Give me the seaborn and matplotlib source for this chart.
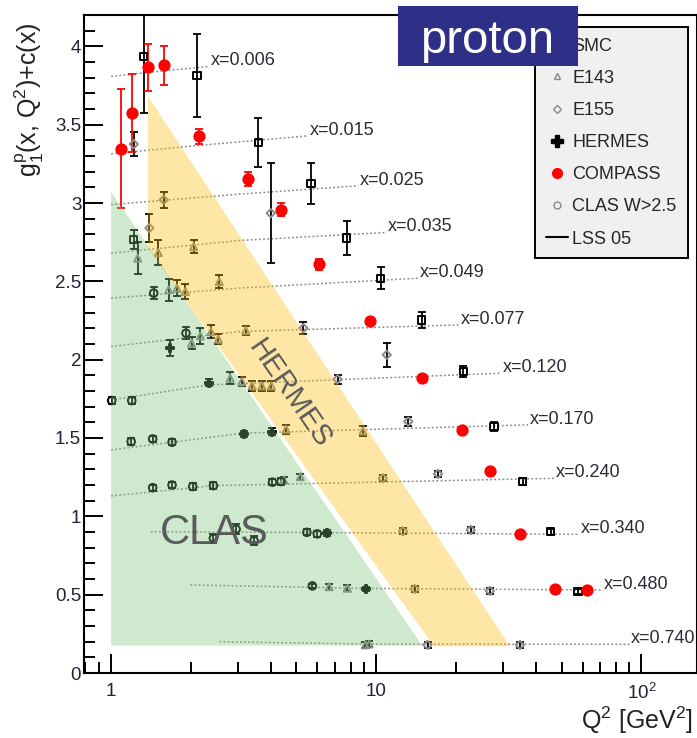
import numpy as np
import pandas as pd
import matplotlib
matplotlib.use('Agg')
import matplotlib.pyplot as plt
from matplotlib.lines import Line2D
from matplotlib.patches import Rectangle
from matplotlib.ticker import FixedLocator, FixedFormatter, MultipleLocator, LogLocator, NullFormatter
import seaborn as sns

# LSS 05 curves, one per x bin
x_bins = ['x=0.006', 'x=0.015', 'x=0.025', 'x=0.035', 'x=0.049', 'x=0.077',
          'x=0.120', 'x=0.170', 'x=0.240', 'x=0.340', 'x=0.480', 'x=0.740']
lss_q2 = [[1.0, 1.5, 2.35], [1.0, 2.06, 5.55], [1.0, 3.07, 8.56], [1.0, 3.07, 10.95],
          [1.0, 3.07, 14.4], [1.0, 3.07, 20.7], [1.0, 2.33, 29.7], [1.0, 3.16, 37.4],
          [1.0, 2.43, 47.2], [1.41, 5.47, 58.6], [1.99, 9.18, 71.7], [2.56, 9.26, 90.4]]
lss_g = [[3.808, 3.84, 3.872], [3.314, 3.365, 3.429], [2.99, 3.057, 3.11], [2.68, 2.761, 2.812],
         [2.393, 2.457, 2.52], [2.084, 2.18, 2.222], [1.743, 1.839, 1.914], [1.424, 1.531, 1.584],
         [1.13, 1.196, 1.243], [0.902, 0.897, 0.885], [0.562, 0.54, 0.53], [0.2, 0.185, 0.183]]

# SMC
smc_q2 = [1.327, 2.108, 3.59, 5.68, 7.74, 10.4, 14.84, 21.3, 27.8, 35.6, 45.5, 57.7, 1.217]
smc_g = [3.936, 3.814, 3.386, 3.123, 2.776, 2.52, 2.254, 1.924, 1.573, 1.222, 0.902, 0.519, 2.765]
smc_err = [0.36, 0.265, 0.155, 0.13, 0.107, 0.07, 0.05, 0.035, 0.03, 0.02, 0.02, 0.015, 0.06]

# E143
e143_q2 = [1.259, 1.507, 2.047, 1.648, 1.772, 1.905, 2.557, 2.01, 2.17, 2.38, 2.536, 3.22,
           2.81, 3.11, 3.40, 3.70, 4.02, 4.57, 8.9, 4.47, 5.17, 6.64, 7.78, 9.1, 9.4]
e143_g = [2.648, 2.684, 2.722, 2.446, 2.457, 2.435, 2.499, 2.105, 2.152, 2.179, 2.131, 2.186,
          1.882, 1.86, 1.833, 1.833, 1.833, 1.556, 1.545, 1.232, 1.253, 0.551, 0.541, 0.18, 0.185]
e143_err = [0.1, 0.077, 0.04, 0.07, 0.05, 0.05, 0.04, 0.04, 0.05, 0.04, 0.03, 0.03,
            0.04, 0.03, 0.03, 0.03, 0.03, 0.03, 0.03, 0.02, 0.02, 0.02, 0.02, 0.02, 0.02]

# E155
e155_q2 = [1.217, 1.394, 1.578, 4.0, 5.31, 7.14, 10.95, 13.2, 10.58, 17.1, 12.6, 22.7, 13.96, 26.8, 15.6, 34.8]
e155_g = [3.376, 2.84, 3.02, 2.935, 2.201, 1.875, 2.031, 1.605, 1.243, 1.271, 0.905, 0.913, 0.536, 0.524, 0.179, 0.179]
e155_err = [0.075, 0.09, 0.05, 0.32, 0.04, 0.03, 0.078, 0.03, 0.02, 0.02, 0.02, 0.02, 0.02, 0.02, 0.02, 0.02]

# HERMES
hermes_q2 = [1.672, 2.33, 3.16, 4.03, 6.52, 9.18]
hermes_g = [2.073, 1.854, 1.526, 1.541, 0.892, 0.536]
hermes_err = [0.05, 0.02, 0.02, 0.02, 0.02, 0.015]

# COMPASS
compass_q2 = [1.093, 1.196, 1.378, 1.578, 2.15, 3.27, 4.39, 6.09, 9.48, 14.92, 21.0, 26.8, 34.8, 47.4, 62.1]
compass_g = [3.347, 3.574, 3.865, 3.878, 3.425, 3.154, 2.957, 2.61, 2.248, 1.882, 1.552, 1.292, 0.888, 0.534, 0.53]
compass_err = [0.38, 0.25, 0.15, 0.125, 0.05, 0.045, 0.04, 0.035, 0.02, 0.015, 0.015, 0.015, 0.015, 0.015, 0.015]

# CLAS W>2.5
clas_q2 = [1.447, 1.915, 1.005, 1.196, 1.19, 1.434, 1.697, 1.434, 1.697, 2.03, 2.43, 4.06, 4.37,
           2.43, 2.96, 3.46, 5.47, 5.99, 5.74]
clas_g = [2.425, 2.169, 1.739, 1.739, 1.477, 1.494, 1.473, 1.183, 1.2, 1.19, 1.196, 1.218, 1.222,
          0.86, 0.918, 0.845, 0.898, 0.888, 0.556]
clas_err = [0.04, 0.04, 0.02, 0.02, 0.02, 0.02, 0.02, 0.02, 0.02, 0.02, 0.02, 0.02, 0.02,
            0.03, 0.03, 0.03, 0.02, 0.02, 0.015]

# kinematic coverage bands
clas_band_q2 = [1.0, 1.0, 14.9]
clas_band_g = [0.175, 3.07, 0.175]
hermes_band_q2 = [1.378, 1.378, 16.5, 31.9]
hermes_band_g = [3.68, 2.71, 0.17, 0.17]

sns.set_theme(style='ticks')
plt.rcParams['font.family'] = ['Liberation Sans', 'DejaVu Sans']
plt.rcParams['mathtext.fontset'] = 'custom'
plt.rcParams['mathtext.rm'] = 'Liberation Sans'
plt.rcParams['mathtext.it'] = 'Liberation Sans'

W, H = 697, 738
fig = plt.figure(figsize=(W / 100, H / 100), dpi=100)
ax = fig.add_axes([84 / W, 65 / H, 613 / W, 658 / H])

# LSS 05 curves
lss_df = pd.DataFrame({
    'q2': [q for qs in lss_q2 for q in qs],
    'g': [g for gs in lss_g for g in gs],
    'bin': [b for b, qs in zip(x_bins, lss_q2) for _ in qs],
})
sns.lineplot(data=lss_df, x='q2', y='g', units='bin', estimator=None, color='#8a8a8a',
             linestyle=(0, (1.2, 1.5)), linewidth=1.1, ax=ax, zorder=1, legend=False)
for lab, qs, gs in zip(x_bins, lss_q2, lss_g):
    ax.text(qs[-1] * 1.01, gs[-1] + 0.035, lab, fontsize=13, color='#2b2b38',
            ha='left', va='center', zorder=6)

experiments = [
    (smc_q2, smc_g, smc_err, 's', 'none', 'black', 28, 'black'),
    (e143_q2, e143_g, e143_err, '^', 'none', '#8a8a8a', 26, 'black'),
    (e155_q2, e155_g, e155_err, 'D', 'none', '#8a8a8a', 18, 'black'),
    (hermes_q2, hermes_g, hermes_err, 'P', 'black', 'black', 30, 'black'),
    (compass_q2, compass_g, compass_err, 'o', 'red', 'red', 55, 'red'),
    (clas_q2, clas_g, clas_err, 'o', 'none', 'black', 30, 'black'),
]
for q2, g, err, mk, fc, ec, s, errc in experiments:
    ax.errorbar(q2, g, yerr=err, fmt='none', ecolor=errc, elinewidth=1.3, capsize=3,
                capthick=1.3, zorder=2)
    sns.scatterplot(x=q2, y=g, marker=mk, s=s, facecolor=fc, edgecolor=ec,
                    linewidth=1.4, ax=ax, zorder=3)

# coverage bands drawn over the data
ax.fill(hermes_band_q2, hermes_band_g, color=(252 / 255, 184 / 255, 0), alpha=0.35,
        lw=0, zorder=4)
ax.fill(clas_band_q2, clas_band_g, color=(118 / 255, 192 / 255, 118 / 255), alpha=0.35,
        lw=0, zorder=4)
ax.text(1.53, 0.894, 'CLAS', fontsize=30, color='#5a5a5a', ha='left', va='center', zorder=6)
ax.text(4.7, 1.78, 'HERMES', fontsize=21, color='#5a5a5a', ha='center', va='center',
        rotation=-55.5, rotation_mode='anchor', zorder=6)

ax.set_xscale('log')
ax.set_xlim(0.79, 162)
ax.set_ylim(0, 4.2)
ax.xaxis.set_major_locator(FixedLocator([1, 10, 100]))
ax.xaxis.set_major_formatter(FixedFormatter(['1', '10', '$10^2$']))
ax.xaxis.set_minor_locator(LogLocator(base=10, subs=np.arange(2, 10), numticks=20))
ax.xaxis.set_minor_formatter(NullFormatter())
ax.yaxis.set_major_locator(MultipleLocator(0.5))
ax.yaxis.set_minor_locator(MultipleLocator(0.1))
ax.yaxis.set_major_formatter(plt.FuncFormatter(lambda v, p: f'{v:g}'))
ax.tick_params(which='both', direction='in', top=False, right=False, width=1.4,
               color='black', labelcolor='#22223a', labelsize=13.5)
ax.tick_params(which='major', length=13.5)
ax.tick_params(which='minor', length=7.7)
ax.tick_params(axis='y', pad=2)
ax.tick_params(axis='x', pad=7)
for sp in ax.spines.values():
    sp.set_linewidth(1.5)
    sp.set_color('black')

ax.set_xlabel('Q$^{2}$ [GeV$^{2}$]', fontsize=18, color='#222', ha='right', va='center')
ax.xaxis.set_label_coords(609 / 613, -47 / 658)
ax.set_ylabel('g$_{1}^{p}$(x, Q$^{2}$)+c(x)', fontsize=18, color='#222', ha='center', va='bottom')
ax.yaxis.set_label_coords(-38 / 613, 573 / 658)

# legend
handles = [
    Line2D([], [], ls='none', marker='s', mfc='none', mec='black', ms=6, mew=1.3),
    Line2D([], [], ls='none', marker='^', mfc='none', mec='#8a8a8a', ms=5, mew=1),
    Line2D([], [], ls='none', marker='D', mfc='none', mec='#8a8a8a', ms=4, mew=1),
    Line2D([], [], ls='none', marker='P', color='black', ms=8),
    Line2D([], [], ls='none', marker='o', color='red', ms=7),
    Line2D([], [], ls='none', marker='o', mfc='none', mec='#8a8a8a', ms=5, mew=1),
    Line2D([], [], color='black', lw=1.5),
]
labels = ['SMC', 'E143', 'E155', 'HERMES', 'COMPASS', 'CLAS W>2.5', 'LSS 05']
leg = ax.legend(handles, labels, loc='upper left',
                bbox_to_anchor=(535 / W, (H - 250.7) / H, 153 / W, 224 / H),
                bbox_transform=fig.transFigure, mode='expand', fontsize=13,
                frameon=True, fancybox=False, edgecolor='black', facecolor='#f0f0f0',
                framealpha=1, borderaxespad=0, borderpad=0.6, labelspacing=0.84,
                handlelength=1.2, handletextpad=0.25)
leg.get_frame().set_linewidth(1.4)
leg.set_zorder(10)

# proton tag
fig.add_artist(Rectangle((398 / W, 1 - 66 / H), 180 / W, 60 / H, transform=fig.transFigure,
                         facecolor='#2e3087', edgecolor='none', zorder=20))
fig.text(487.5 / W, 1 - 53.3 / H, 'proton', fontsize=34, color='white', ha='center',
         va='baseline', zorder=21)

fig.savefig('out.png', dpi=100)
